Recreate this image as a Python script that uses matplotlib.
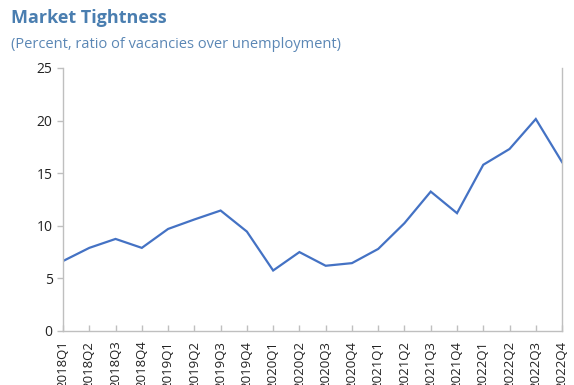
import numpy as np
import matplotlib
matplotlib.use('Agg')
import matplotlib.pyplot as plt

plt.rcParams['font.family'] = ['Open Sans', 'DejaVu Sans']

### data

quarters = ['2018Q1', '2018Q2', '2018Q3', '2018Q4',
            '2019Q1', '2019Q2', '2019Q3', '2019Q4',
            '2020Q1', '2020Q2', '2020Q3', '2020Q4',
            '2021Q1', '2021Q2', '2021Q3', '2021Q4',
            '2022Q1', '2022Q2', '2022Q3', '2022Q4']
tightness = [6.65, 7.9, 8.75, 7.9,
             9.7, 10.6, 11.45, 9.45,
             5.75, 7.5, 6.2, 6.45,
             7.8, 10.25, 13.25, 11.2,
             15.8, 17.3, 20.15, 16.05]
yticks = [0, 5, 10, 15, 20, 25]

title_color = '#4a7eb0'
sub_color = '#5b87b5'
line_color = '#4472c4'
axis_color = '#bfbfbf'

### figure

fig = plt.figure(figsize=(5.74, 3.85), dpi=100)
ax = fig.add_axes([0.1098, 0.1403, 0.8694, 0.6831])

x = np.arange(len(quarters))
ax.plot(x, tightness, color=line_color, lw=1.6, solid_joinstyle='miter')

ax.set_xlim(0, len(quarters) - 1)
ax.set_ylim(0, 25)
ax.set_yticks(yticks)
ax.set_xticks(x)
ax.set_xticklabels(quarters, rotation=90, fontsize=9.5, color='#222222')
ax.tick_params(axis='y', labelsize=10, colors=axis_color, labelcolor='#222222',
               length=4, width=1)
ax.tick_params(axis='x', direction='in', colors=axis_color, labelcolor='#222222',
               length=4, width=1, pad=7)

ax.spines['top'].set_visible(False)
for side in ['left', 'right', 'bottom']:
    ax.spines[side].set_color(axis_color)
    ax.spines[side].set_linewidth(1)

fig.text(0.019, 0.977, 'Market Tightness', fontsize=13, fontweight='bold',
         color=title_color, va='top', ha='left')
fig.text(0.019, 0.905, '(Percent, ratio of vacancies over unemployment)',
         fontsize=10.5, color=sub_color, va='top', ha='left')

fig.savefig('out.png', dpi=100)
